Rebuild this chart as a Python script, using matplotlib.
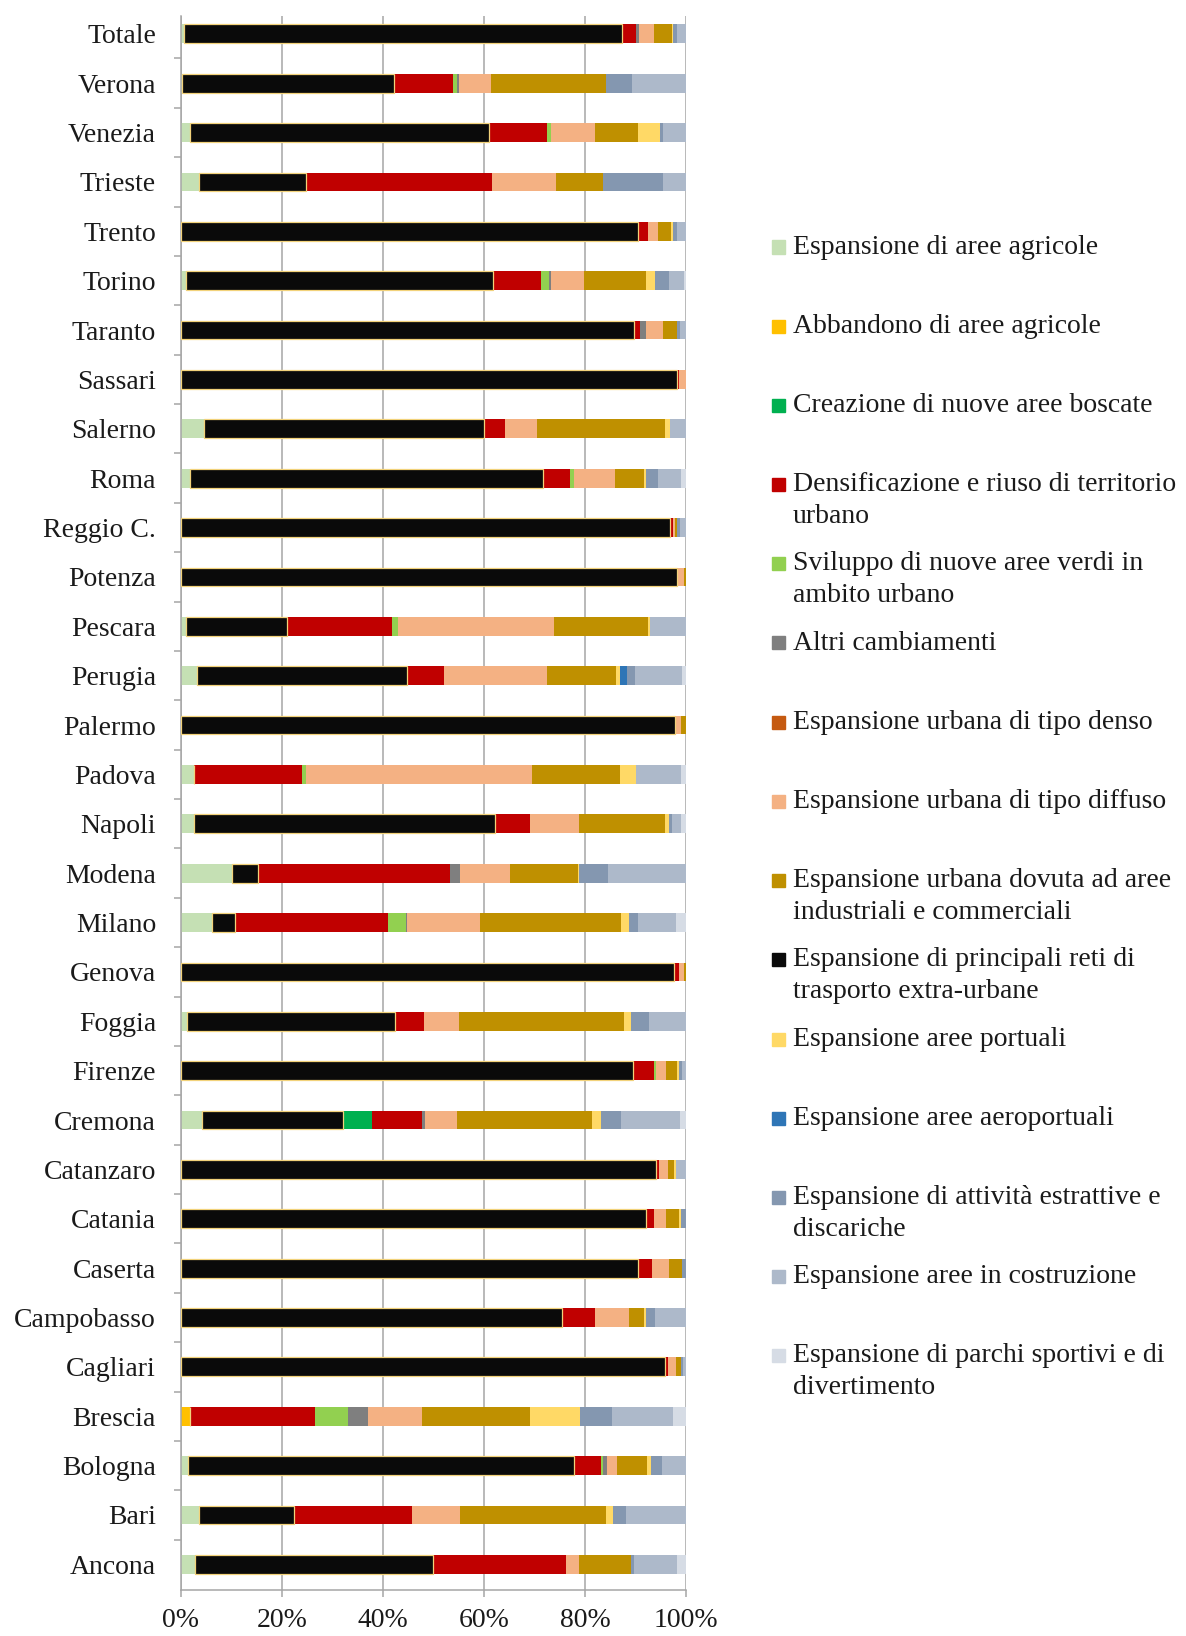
import matplotlib.pyplot as plt
from matplotlib.patches import Rectangle
import numpy as np

plt.rcParams['font.family'] = ['Liberation Serif', 'DejaVu Serif']

citta = ['Totale', 'Verona', 'Venezia', 'Trieste', 'Trento', 'Torino', 'Taranto', 'Sassari',
	'Salerno', 'Roma', 'Reggio C.', 'Potenza', 'Pescara', 'Perugia', 'Palermo', 'Padova',
	'Napoli', 'Modena', 'Milano', 'Genova', 'Foggia', 'Firenze', 'Cremona', 'Catanzaro',
	'Catania', 'Caserta', 'Campobasso', 'Cagliari', 'Brescia', 'Bologna', 'Bari', 'Ancona']

# percentuali per citta, stesso ordine di citta
agricole =       [0.5, 0.3, 1.8, 3.6, 0, 0.9, 0, 0, 4.6, 1.8, 0, 0, 0.9, 3.1, 0, 2.5,
	2.5, 10.1, 6.2, 0, 1.1, 0, 4.1, 0, 0, 0, 0, 0, 0, 1.3, 3.6, 2.8]
abbandono =      [0, 0, 0, 0, 0, 0, 0, 0, 0, 0, 0, 0, 0, 0, 0, 0,
	0, 0, 0, 0, 0, 0, 0, 0, 0, 0, 0, 0, 1.8, 0, 0, 0]
trasporto =      [86.9, 41.9, 59.1, 21.1, 90.5, 60.9, 89.7, 98.3, 55.5, 69.9, 96.8, 98.2, 20.1, 41.7, 97.8, 0,
	59.6, 5.1, 4.4, 97.7, 41.3, 89.6, 28.0, 94.0, 92.1, 90.5, 75.4, 95.9, 0, 76.6, 18.7, 47.2]
boscate =        [0, 0, 0, 0, 0, 0, 0, 0, 0, 0, 0, 0, 0, 0, 0, 0,
	0, 0, 0, 0, 0, 0, 5.8, 0, 0, 0, 0, 0, 0, 0, 0, 0]
densificazione = [2.8, 11.6, 11.5, 36.8, 1.9, 9.5, 1.2, 0.4, 4.1, 5.3, 0.6, 0.3, 20.7, 7.2, 0.3, 21.5,
	7.1, 38.0, 30.3, 0.9, 5.8, 4.0, 9.9, 0.7, 1.5, 2.7, 6.5, 0.5, 24.8, 5.2, 23.4, 26.3]
verdi =          [0, 0.8, 0.8, 0, 0, 1.5, 0, 0, 0, 0.8, 0, 0, 1.3, 0, 0, 0.7,
	0, 0, 3.6, 0, 0, 0.5, 0, 0, 0, 0, 0, 0, 6.5, 0.5, 0, 0]
altri =          [0.5, 0.4, 0, 0, 0, 0.4, 1.2, 0, 0, 0, 0, 0, 0, 0, 0, 0,
	0, 2.1, 0.3, 0, 0, 0, 0.5, 0, 0, 0, 0, 0, 4.0, 0.7, 0, 0]
denso =          [0, 0, 0, 0, 0, 0, 0, 0, 0, 0, 0, 0, 0, 0, 0, 0,
	0, 0, 0, 0, 0, 0, 0, 0, 0, 0, 0, 0, 0, 0, 0, 0]
diffuso =        [3.0, 6.4, 8.7, 12.7, 2.1, 6.6, 3.3, 1.3, 6.2, 8.2, 0.4, 1.1, 30.8, 20.5, 0.9, 44.8,
	9.6, 9.9, 14.5, 1.1, 6.8, 1.9, 6.3, 1.8, 2.4, 3.4, 6.8, 1.6, 10.7, 2.1, 9.6, 2.5]
industriali =    [3.5, 22.7, 8.6, 9.4, 2.5, 12.3, 2.9, 0, 25.4, 5.7, 0.5, 0.4, 18.7, 13.7, 1.0, 17.4,
	17.0, 13.4, 27.9, 0.3, 32.7, 2.2, 26.7, 1.2, 2.7, 2.7, 3.0, 1.0, 21.4, 5.9, 28.8, 10.3]
portuali =       [0.3, 0, 4.4, 0, 0.5, 1.7, 0, 0, 1.0, 0.4, 0, 0, 0.4, 0.7, 0, 3.3,
	0.9, 0.3, 1.5, 0, 1.4, 0.5, 1.8, 0.3, 0.3, 0, 0.4, 0, 9.9, 0.7, 1.5, 0]
aeroportuali =   [0, 0, 0, 0, 0, 0, 0, 0, 0, 0, 0, 0, 0, 1.5, 0, 0,
	0, 0, 0, 0, 0, 0, 0, 0, 0, 0, 0, 0, 0, 0, 0, 0]
estrattive =     [0.7, 5.2, 0.5, 11.9, 0.8, 2.9, 0.6, 0, 0, 2.3, 0.6, 0, 0, 1.5, 0, 0,
	0.5, 5.7, 1.8, 0, 3.6, 0.5, 4.1, 0, 1.0, 0.7, 1.8, 0.5, 6.3, 2.2, 2.5, 0.6]
costruzione =    [1.8, 10.7, 4.6, 4.5, 1.7, 2.9, 1.1, 0, 3.2, 4.7, 1.1, 0, 7.1, 9.4, 0, 8.9,
	1.9, 15.4, 7.5, 0, 7.3, 0.8, 11.7, 2.0, 0, 0, 6.1, 0.5, 12.0, 4.8, 11.9, 8.5]
parchi =         [0, 0, 0, 0, 0, 0.4, 0, 0, 0, 0.9, 0, 0, 0, 0.7, 0, 0.9,
	0.9, 0, 2.0, 0, 0, 0, 1.1, 0, 0, 0, 0, 0, 2.6, 0, 0, 1.8]

voci = ['Espansione di aree agricole', 'Abbandono di aree agricole', 'Creazione di nuove aree boscate',
	'Densificazione e riuso di territorio\nurbano', 'Sviluppo di nuove aree verdi in\nambito urbano',
	'Altri cambiamenti', 'Espansione urbana di tipo denso', 'Espansione urbana di tipo diffuso',
	'Espansione urbana dovuta ad aree\nindustriali e commerciali',
	'Espansione di principali reti di\ntrasporto extra-urbane', 'Espansione aree portuali',
	'Espansione aree aeroportuali', 'Espansione di attività estrattive e\ndiscariche',
	'Espansione aree in costruzione', 'Espansione di parchi sportivi e di\ndivertimento']
serie = [agricole, abbandono, boscate, densificazione, verdi, altri, denso, diffuso,
	industriali, trasporto, portuali, aeroportuali, estrattive, costruzione, parchi]
colori = ['#C5E0B4', '#FFC000', '#00B050', '#C00000', '#92D050', '#7F7F7F', '#C55A11', '#F4B183',
	'#BF9000', '#0A0A0A', '#FFD966', '#2E75B6', '#8497B0', '#ADB9CA', '#D6DCE5']
# ordine di impilamento nelle barre (il nero viene subito dopo le aree agricole)
ordine = [0, 1, 9, 2, 3, 4, 5, 6, 7, 8, 10, 11, 12, 13, 14]

grigio = '#A6A6A6'
fig = plt.figure(figsize=(11.86, 16.36), dpi=100)
ax = fig.add_axes([0.1526, 0.0281, 0.4258, 0.9621])

y = np.arange(len(citta))
left = np.zeros(len(citta))
for k in ordine:
	vals = np.array(serie[k], dtype=float)
	if k == 9:
		ax.barh(y, vals, left=left, height=0.38, color=colori[k], edgecolor='#F2D27A', linewidth=0.9, zorder=3)
	else:
		ax.barh(y, vals, left=left, height=0.38, color=colori[k], linewidth=0, zorder=2)
	left += vals

ax.set_xlim(0, 100)
ax.set_ylim(31.52, -0.36)
ax.set_xticks(range(0, 101, 20))
ax.set_xticklabels(['%d%%' % v for v in range(0, 101, 20)])
ax.xaxis.grid(True, color=grigio, linewidth=1.1)
ax.set_axisbelow(True)
for s in ['top', 'right']:
	ax.spines[s].set_visible(False)
for s in ['left', 'bottom']:
	ax.spines[s].set_color(grigio)
	ax.spines[s].set_linewidth(1.1)

ax.set_yticks(y)
ax.set_yticklabels(citta)
ax.set_yticks(np.arange(0.5, 31, 1), minor=True)
ax.tick_params(axis='y', which='major', length=0, pad=18, labelsize=20, labelcolor='#1a1a1a')
ax.tick_params(axis='y', which='minor', length=5, color=grigio, width=1.1)
ax.tick_params(axis='x', length=5, color=grigio, width=1.1, pad=8, labelsize=20, labelcolor='#1a1a1a')

# legenda a destra
W, H = 1186.0, 1636.0
for i in range(len(voci)):
	yc = 247 + 79.2 * i
	fig.patches.append(Rectangle((772 / W, 1 - (yc + 6.5) / H), 13 / W, 13 / H,
		transform=fig.transFigure, color=colori[i], figure=fig))
	for j, riga in enumerate(voci[i].split('\n')):
		fig.text(793 / W, 1 - (yc + 32 * j) / H, riga, va='center', ha='left', fontsize=20, color='#1a1a1a')

plt.savefig('out.png', dpi=100)
plt.close()
